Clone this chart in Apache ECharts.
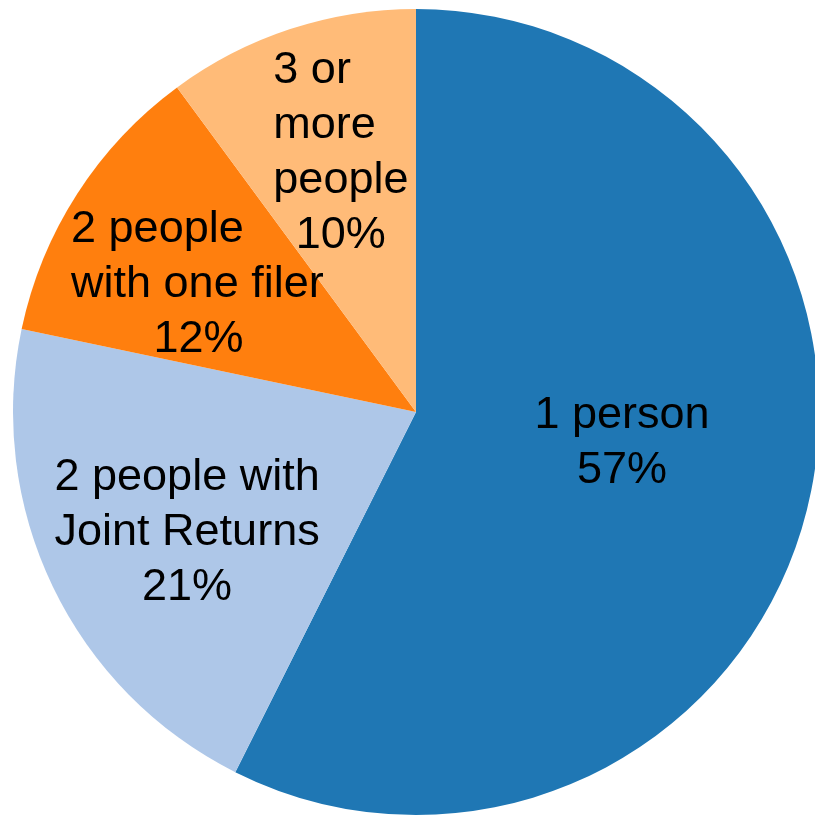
<!DOCTYPE html>
<html>
<head>
<meta charset="utf-8">
<script src="https://cdn.jsdelivr.net/npm/echarts@6/dist/echarts.min.js"></script>
<style>
html,body{margin:0;padding:0;background:#fff;}
#chart{width:815px;height:816px;}
</style>
</head>
<body>
<div id="chart"></div>
<script>
// Data
const categories = ['1 person', '2 people with Joint Returns', '2 people with one filer', '3 or more people'];
const shares = [57.4, 20.9, 11.6, 10.1];
const labelLines = [
  ['1 person'],
  ['2 people with', 'Joint Returns'],
  ['2 people', 'with one filer'],
  ['3 or', 'more', 'people']
];
const colors = ['#1f77b4', '#aec7e8', '#ff7f0e', '#ffbb78'];

const FONT = "'Liberation Sans', Arial, sans-serif";
const total = shares.reduce((a, b) => a + b, 0);
const pct = v => Math.round(v / total * 100) + '%';

// label styling (widths for left-aligned wrapped lines, small nudges)
const blockWidths = [0, 0, 255, 135];
const labelNudges = [[7, -16], [8, 6], [-3, 11], [10, 0]];

function labelFor(i) {
  const w = blockWidths[i];
  if (!w) return labelLines[i].join('\n') + '\n' + pct(shares[i]);
  return labelLines[i].map(l => '{t' + i + '|' + l + '}').join('\n') + '\n{p' + i + '|' + pct(shares[i]) + '}';
}
const rich = {};
blockWidths.forEach((w, i) => {
  if (w) {
    rich['t' + i] = {width: w, align: 'left', fontSize: 45, lineHeight: 55, fontFamily: FONT, color: '#000'};
    rich['p' + i] = {width: w, align: 'center', fontSize: 45, lineHeight: 55, fontFamily: FONT, color: '#000'};
  }
});

const chart = echarts.init(document.getElementById('chart'), null, {renderer: 'canvas'});
const baseLabel = {
  position: 'inside', color: '#000', fontSize: 45, lineHeight: 55,
  fontFamily: FONT, align: 'center', rich: rich,
  formatter: p => labelFor(p.dataIndex)
};
function labelSeries(radius, showIdx) {
  return {
    type: 'pie',
    center: [416, 412],
    radius: radius,
    startAngle: 90,
    clockwise: true,
    silent: true,
    avoidLabelOverlap: false,
    labelLayout: {hideOverlap: false},
    z: 3,
    labelLine: {show: false},
    itemStyle: {color: 'transparent', borderWidth: 0},
    label: Object.assign({}, baseLabel, {show: true}),
    data: categories.map((c, i) => ({
      name: c, value: shares[i],
      label: {show: showIdx.indexOf(i) >= 0, offset: labelNudges[i]}
    }))
  };
}
chart.setOption({
  animation: false,
  backgroundColor: '#fff',
  series: [
    {
      type: 'pie',
      center: [416, 412],
      radius: [0, 403],
      startAngle: 90,
      clockwise: true,
      silent: true,
      avoidLabelOverlap: false,
      labelLayout: {hideOverlap: false},
      labelLine: {show: false},
      itemStyle: {borderWidth: 0},
      label: Object.assign({}, baseLabel, {show: true}),
      data: categories.map((c, i) => ({
        name: c, value: shares[i],
        itemStyle: {color: colors[i]},
        label: {show: i === 0, offset: labelNudges[i]}
      }))
    },
    labelSeries([110, 410], [1]),
    labelSeries([100, 404], [2]),
    labelSeries([0, 540], [3])
  ]
});
</script>
</body>
</html>
